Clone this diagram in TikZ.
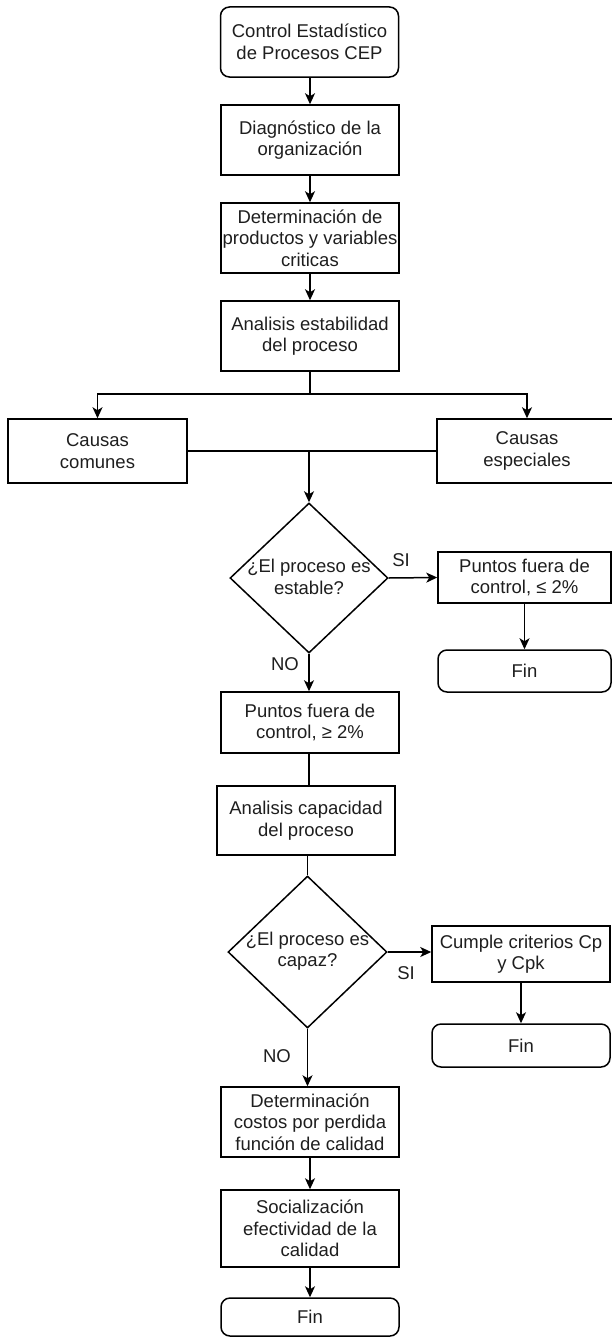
\documentclass[tikz,border=0pt]{standalone}
\usepackage{fontspec}
\setmainfont{Liberation Sans}
\usetikzlibrary{shapes.geometric,arrows.meta}
\definecolor{txt}{HTML}{1E1E1E}
\tikzset{
  base/.style={draw=black, line width=1.5pt, inner sep=0pt, align=center, text=txt,
    font=\fontsize{18.5}{21.5}\selectfont},
  proc/.style={base, rectangle, minimum width=178pt},
  term/.style={base, rectangle, rounded corners=9pt, minimum width=178pt},
  decis/.style={draw=black, line width=1.5pt, diamond, inner sep=0pt, minimum width=158pt, minimum height=150pt},
  lbl/.style={inner sep=0pt, text=txt, font=\fontsize{18.5}{21.5}\selectfont, align=center},
  ln/.style={draw=black, line width=1.5pt},
  arr/.style={ln, -{Stealth[length=11pt,width=10pt,inset=3pt]}}
}
\begin{document}
\begin{tikzpicture}[x=1pt,y=-1pt]
\useasboundingbox (0,0) rectangle (612,1338);
% main column
\node[term, minimum height=70pt] (ctrl) at (309.5,42) {Control Estadístico\\de Procesos CEP};
\node[proc, minimum height=70pt] (diag) at (310,140) {Diagnóstico de la\\organización};
\node[proc, minimum height=70pt] (det) at (310,238) {Determinación de\\productos y variables\\criticas};
\node[proc, minimum height=70pt] (ana) at (310,336) {Analisis estabilidad\\del proceso};
\coordinate (j1) at (310,394);
\node[proc, minimum width=179pt, minimum height=64pt] (com) at (97.5,451) {Causas\\comunes};
\node[proc, minimum width=180pt, minimum height=64pt] (esp) at (527,451) {Causas\\especiales};
\node[decis] (d1) at (309,578) {};
\node[lbl] (d1t) at (309,577) {¿El proceso es\\estable?};
\node[lbl] (si1) at (401,560) {SI};
\node[proc, minimum width=173pt, minimum height=51pt] (ple) at (524.5,577.5) {Puntos fuera de\\control, ≤ 2\%};
\node[term, minimum width=173pt, minimum height=42pt] (fin1) at (524.5,671) {Fin};
\node[lbl] (no1) at (285,664) {NO};
\node[proc, minimum height=61pt] (pge) at (310,722.5) {Puntos fuera de\\control, ≥ 2\%};
\node[proc, minimum height=69pt] (cap) at (306,820.5) {Analisis capacidad\\del proceso};
\node[decis, minimum width=159pt, minimum height=152pt] (d2) at (307.5,952) {};
\node[lbl] (d2t) at (307.5,951) {¿El proceso es\\capaz?};
\node[lbl] (si2) at (406,973) {SI};
\node[proc, minimum width=178pt, minimum height=56pt] (cum) at (521,954) {Cumple criterios Cp\\y Cpk};
\node[term, minimum width=178pt, minimum height=43pt] (fin2) at (521,1045.5) {Fin};
\node[lbl] (no2) at (277,1056) {NO};
\node[proc, minimum height=70pt] (cos) at (310,1122) {Determinación\\costos por perdida\\función de calidad};
\node[proc, minimum height=77pt] (soc) at (310,1228.5) {Socialización\\efectividad de la\\calidad};
\node[term, minimum height=38pt] (fin3) at (310,1317) {Fin};
% connectors
\draw[arr] (ctrl.south -| diag.north) -- (diag.north);
\draw[arr] (diag) -- (det);
\draw[arr] (det) -- (ana);
\draw[ln] (ana.south) -- (j1);
\draw[arr] (j1) -| (com.north);
\draw[arr] (j1) -| (esp.north);
\draw[ln] (com.east) -- (esp.west);
\coordinate (j2) at (d1.north |- com.east);
\draw[arr] (j2) -- (d1.north);
\draw[arr] (d1.east) -- (ple.west);
\draw[arr] (ple) -- (fin1);
\draw[arr] (d1.south) -- (d1.south |- pge.north);
\draw[ln] (d1.south |- pge.south) -- (d1.south |- cap.north);
\draw[ln] (d2.north |- cap.south) -- (d2.north);
\draw[arr] (d2.east) -- (d2.east -| cum.west);
\draw[arr] (cum) -- (fin2);
\draw[arr] (d2.south) -- (d2.south |- cos.north);
\draw[arr] (cos) -- (soc);
\draw[arr] (soc) -- (fin3);
\end{tikzpicture}
\end{document}
